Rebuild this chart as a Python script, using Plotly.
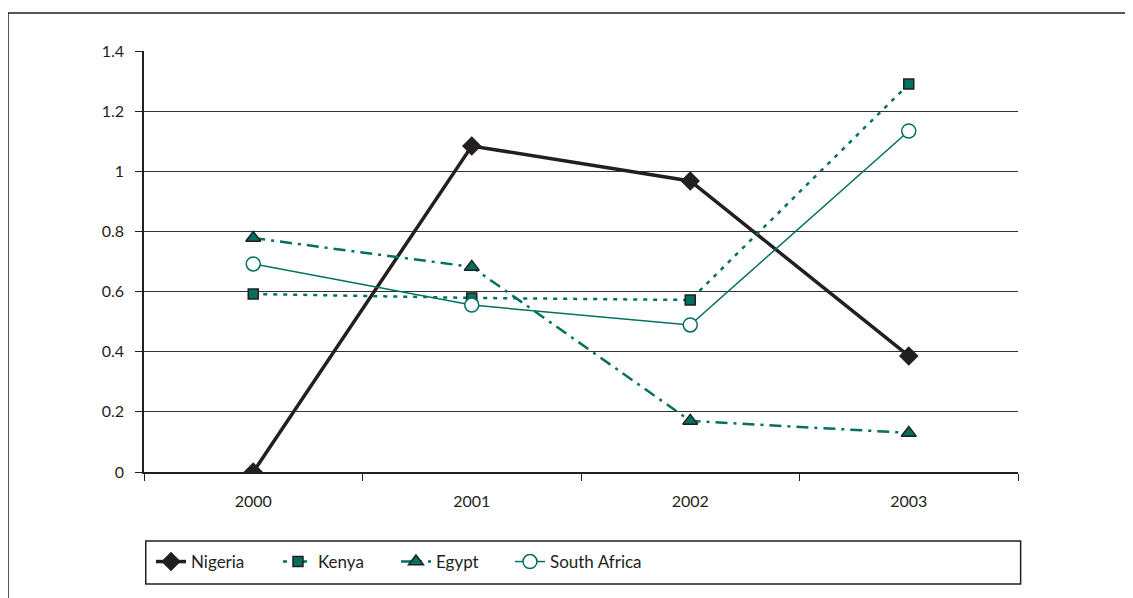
import plotly.graph_objects as go

years = ['2000', '2001', '2002', '2003']
nigeria = [0.0, 1.084, 0.968, 0.386]
kenya = [0.592, 0.579, 0.572, 1.29]
egypt = [0.778, 0.682, 0.17, 0.13]
south_africa = [0.692, 0.555, 0.489, 1.134]

TEAL = '#00705f'
DARK = '#231f20'

fig = go.Figure()
fig.add_trace(go.Scatter(
    name='Nigeria', x=years, y=nigeria, mode='lines+markers', legendwidth=82,
    line=dict(color=DARK, width=3.5),
    marker=dict(symbol='diamond', size=15, color=DARK)))
fig.add_trace(go.Scatter(
    name='Kenya', x=years, y=kenya, mode='lines+markers', legendwidth=73,
    line=dict(color=TEAL, width=2.5, dash='4px,6px'),
    marker=dict(symbol='square', size=10, color=TEAL,
                line=dict(color=DARK, width=1.5))))
fig.add_trace(go.Scatter(
    name='Egypt', x=years, y=egypt, mode='lines+markers', legendwidth=69,
    line=dict(color=TEAL, width=2.5, dash='12px,6px,3px,6px'),
    marker=dict(symbol='triangle-up', size=13, color=TEAL,
                line=dict(color=DARK, width=1.5))))
fig.add_trace(go.Scatter(
    name='South Africa', x=years, y=south_africa, mode='lines+markers', legendwidth=140,
    line=dict(color=TEAL, width=1.5),
    marker=dict(symbol='circle', size=14, color='white',
                line=dict(color=TEAL, width=1.5))))

# page body adds an 8px offset, so the figure is sized to fit what is left
fig.update_layout(
    width=1125, height=590,
    margin=dict(l=136, r=115, t=43, b=126),
    paper_bgcolor='white', plot_bgcolor='white',
    font=dict(family='Lato, sans-serif', size=16, color=DARK),
    legend=dict(orientation='h', x=0.008, y=-0.2138, xanchor='left', yanchor='middle',
                font=dict(size=17),
                bgcolor='rgba(0,0,0,0)', borderwidth=0),
    shapes=[
        dict(type='rect', xref='paper', yref='paper', x0=-0.1556, x1=1.2,
             y0=-0.4, y1=1.0903, line=dict(color=DARK, width=1.5)),
        dict(type='rect', xref='paper', yref='paper', x0=0.002, x1=1.003,
             y0=-0.266, y1=-0.164, line=dict(color=DARK, width=1.5)),
    ],
)
fig.update_xaxes(
    type='category', range=[-0.5, 3.5], showgrid=False,
    showline=True, linecolor=DARK, linewidth=1.5,
    ticks='outside', tickson='boundaries', ticklen=7, tickcolor=DARK,
    ticklabelstandoff=14)
fig.update_yaxes(
    range=[0, 1.4], dtick=0.2, showgrid=True, gridcolor='#333333', gridwidth=1.2,
    zeroline=False, showline=True, linecolor=DARK, linewidth=1.5,
    ticks='outside', ticklen=7, tickcolor=DARK, ticklabelstandoff=8)

fig.write_html('out.html')
